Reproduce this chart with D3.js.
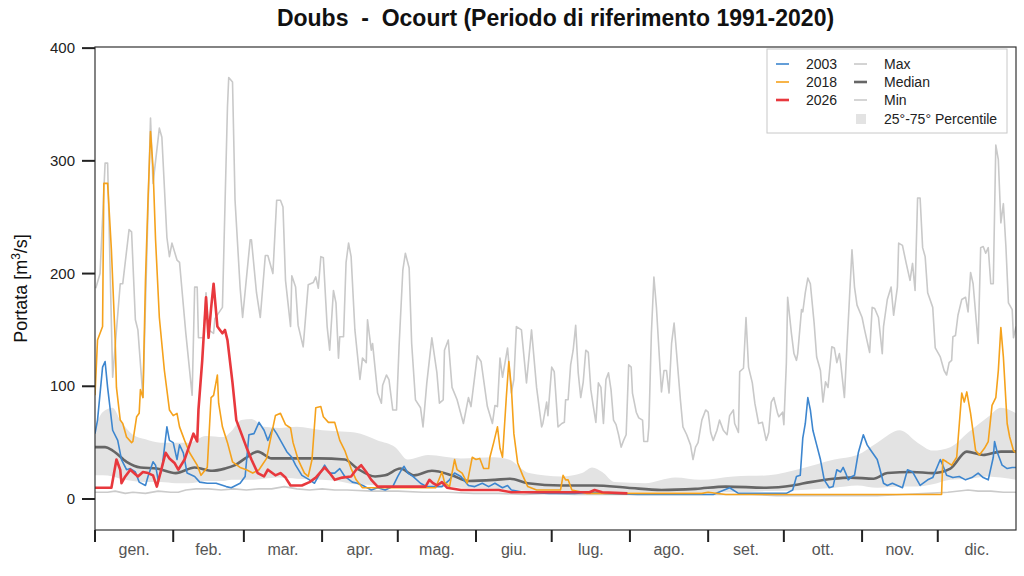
<!DOCTYPE html>
<html>
<head>
<meta charset="utf-8">
<script src="https://cdn.jsdelivr.net/npm/d3@7"></script>
<style>
  body { margin: 0; background: #fff; }
  text { font-family: "Liberation Sans", Arial, sans-serif; }
</style>
</head>
<body>
<div id="chart"></div>
<script>
// month labels and the day-of-year where each month starts
var months = ["gen.", "feb.", "mar.", "apr.", "mag.", "giu.", "lug.", "ago.", "set.", "ott.", "nov.", "dic."];
var monthStarts = [0, 31, 59, 90, 120, 151, 181, 212, 243, 273, 304, 334, 365];
var yTicks = [0, 100, 200, 300, 400];

// [day of year, m3/s]
var maxSeries = [[0.3,187],[2,200],[4,298],[5,298],[7,108],[10,191],[11,191],[13.5,239],[14.5,237],[16,159],[17,150],[19,90],[22,338],[23,280],[25.5,329],[26.5,321],[28.5,232],[29.5,215],[30.5,227],[32.5,212],[33.5,210],[36,147],[38.5,92],[39.5,188],[40.5,188],[41,143],[43,143],[44,183],[45,150],[47,147],[47.5,160],[50.5,170],[52.5,348],[53,374],[54.5,370],[55.5,265],[57.5,188],[58.5,161],[61.5,230],[62,230],[64,183],[65.5,161],[67.5,216],[68.5,216],[70.5,200],[72,265],[73.5,265],[74.5,259],[75.5,194],[77.5,153],[78,198],[79.5,188],[80.5,154],[82.5,135],[84.5,190],[86.5,192],[87.5,197],[88.5,187],[89.5,215],[90.5,214],[92,153],[93,132],[94.5,185],[95.5,174],[96.5,125],[97,144],[98.5,144],[99.5,210],[100.5,227],[101.5,215],[103,150],[105,106],[106,125],[107.5,121],[108,159],[109.5,132],[110,138],[112,94],[113.5,85],[114,101],[115.5,110],[116.5,106],[118,79],[119.5,79],[120.5,135],[122,203],[123,218],[124.5,205],[125.5,138],[127,88],[129,81],[130,64],[131.5,103],[133.5,143],[135.5,112],[136.5,85],[138,88],[138.5,132],[140,141],[141.5,99],[143.5,88],[146,67],[148,90],[149,82],[151.5,127],[153,122],[155.5,82],[157.5,67],[158.5,83],[159.5,82],[160.5,125],[161.5,108],[163.5,134],[165,94],[166,106],[167,153],[169,150],[171,103],[173,150],[175,99],[177,64],[177.5,67],[179,86],[179.5,74],[181,117],[182,113],[183.5,64],[185,67],[186,68],[186.5,88],[187.5,88],[188.5,119],[189.5,132],[190.5,154],[191.5,112],[192.5,90],[193.5,104],[194.5,132],[195.5,130],[196.5,97],[197.5,82],[198.5,68],[199.5,103],[200.5,99],[201.5,67],[202.5,106],[203.5,112],[204.5,97],[205.5,70],[206.5,66],[207.5,57],[208.5,46],[209.5,52],[210.5,57],[211.5,119],[212.5,117],[213,94],[214.5,77],[215.5,72],[217,70],[217.5,51],[219,51],[219.5,64],[220.5,147],[221.5,197],[222.5,170],[223.5,132],[224.5,95],[225.5,114],[226.5,114],[227.5,94],[228.5,138],[229.5,156],[230.5,129],[232,88],[233,64],[234.5,57],[236,48],[237,35],[238,46],[239,50],[240.5,70],[242,79],[243,77],[244,59],[245,52],[246.5,61],[247.5,70],[249,61],[250.5,57],[251.5,74],[253,79],[253.5,67],[255,59],[255.5,113],[257,116],[258,161],[259,117],[260.5,103],[261.5,85],[263,67],[264.5,68],[266,52],[267,59],[268,86],[269,90],[270.5,76],[271,73],[272.5,77],[273,66],[274,121],[274.5,179],[276,147],[277,129],[278,123],[278.5,129],[280,168],[280.5,166],[281.5,183],[282.5,196],[283.5,191],[285,156],[286,126],[287.5,114],[288.5,86],[289.5,104],[290.5,99],[292,135],[293,134],[294,121],[295,129],[295.5,121],[297,90],[298,135],[299,178],[300,221],[301,188],[302,172],[304,161],[305,150],[307,130],[308,170],[309,169],[310.5,161],[312,129],[312.5,153],[314,177],[315.5,188],[316.5,163],[318,188],[318.5,227],[320,225],[321.5,209],[323,194],[324,209],[325,185],[326,267],[327,267],[328,223],[329,215],[330,183],[332,170],[333,134],[335,126],[336.5,114],[337.5,110],[338.5,121],[339.5,123],[340,144],[341,145],[342,163],[343.5,177],[345,179],[346,166],[347,201],[348,191],[350,138],[351,223],[352,224],[353,218],[354,223],[355,191],[356,191],[357,314],[358,301],[359,245],[360,262],[361,224],[362,174],[363.5,168],[364,143],[365,153]];

var minSeries = [[0,6],[5,6],[8,7],[12,5],[15,6],[20,5],[25,7],[30,6],[33,6],[36,8],[40,9],[45,9],[50,8],[55,9],[60,8],[65,9],[70,9],[75,11],[80,9],[85,8],[90,9],[95,8],[100,8],[110,7],[120,7],[130,6],[140,6],[150,5],[160,5],[170,4],[180,5],[190,4],[200,4],[210,4],[220,4],[230,4],[240,4],[250,4],[260,4],[270,3],[280,3],[290,3],[300,3],[310,3],[320,4],[330,5],[338,6],[346,8],[350,7],[355,7],[360,6],[365,6]];

var medianSeries = [[0,46],[4,46],[7,43],[12.5,33],[18,28],[24.5,27],[32,23],[39.5,28],[46.5,25],[51.5,27],[55.5,30],[59.5,36],[64.5,42],[70,36],[79.5,36],[88.5,36],[99,35],[104,27],[111,20],[115,21],[121,27],[126.5,21],[133.5,25],[141.5,21],[148,16],[158.5,17],[164.5,18],[171.5,14],[185,12],[198,12],[211,10],[224.5,8],[238,9],[250,11],[266,10],[276.5,12],[283.5,15],[292.5,18],[299.5,19],[308.5,18],[314,23],[324,24],[332,23],[339,27],[345.5,42],[352,39],[359,42],[365,42]];

// 25th / 75th percentile band on a common day grid
var bandDays = [0,3,7,10,15,20,26,32,37,44,51,54,58,62,67,73,80,90,96,103,112,119,124,132,145,158,164,172,185,193,197,201,206,218,230,240,253,267,280,293,302,310,319,326,332,339,346,354,359,365];
var p75 = [63,77,81,70,57,53,50,50,50,56,55,60,70,71,64,63,64,61,60,59,52,46,35,39,36,37,35,23,20,23,28,24,15,14,19,17,20,21,27,35,39,50,61,50,43,46,59,73,81,76];
var p25 = [21,21,20,18,16,15,15,14,14,16,16,17,17,17,18,19,18,17,16,13,12,11,11,11,10,9,8,7,6,6,6,6,6,6,6,6,6,7,8,10,12,10,11,11,13,17,18,20,19,17];

var series2003 = [[0,58],[1,70],[3,117],[4,122],[5,99],[7,61],[9,52],[10.5,35],[12.5,26],[14,27],[16,24],[17.5,15],[20,12],[21,20],[23,33],[24,30],[25,17],[26.5,26],[28.5,64],[29.5,52],[31,50],[32.5,35],[33.5,48],[35,41],[36.5,23],[39.5,20],[41.5,15],[44.5,14],[48,14],[52,11],[54,10],[57.5,14],[59.5,20],[61,57],[63,58],[65,68],[67,61],[68.5,52],[70.5,63],[72,58],[74,50],[76,42],[78,37],[79.5,30],[82,21],[85,17],[87,14],[91,30],[93,23],[95,23],[97,27],[99,20],[102,15],[104,14],[107,11],[109.5,8],[112,10],[115,8],[118,11],[120,20],[121.5,26],[122.5,29],[124,23],[126,20],[129,14],[131.5,11],[134.5,11],[137.5,11],[140.5,17],[142.5,23],[145,20],[148,12],[150.5,11],[153.5,14],[156,11],[158.5,14],[161.5,10],[163.5,12],[165,8],[170,6],[180,5],[190,5],[197.5,6],[202,5],[215,4],[230,4],[245,4],[251.5,10],[255,5],[270,5],[274,5],[276.5,8],[278,20],[279.5,21],[280.5,54],[281.5,67],[282.5,90],[283.5,79],[284.5,61],[286,48],[287.5,35],[289,17],[291,10],[292.5,11],[294,26],[295.5,24],[296.5,28],[297.5,23],[298.5,17],[300,20],[301,21],[302.5,41],[304.5,57],[306,48],[307.5,43],[310,35],[311,27],[312.5,14],[314,12],[316,14],[318,12],[320,10],[322,26],[324,24],[325,20],[327,12],[330,17],[332,19],[335,35],[336,30],[337.5,21],[340,19],[342.5,20],[345,17],[347.5,19],[350,23],[352,19],[354,17],[356,37],[356.5,51],[357.5,42],[359.5,30],[361.5,27],[363.5,28],[365,28]];

var series2018 = [[0,92],[1,141],[3,153],[3.5,280],[5,280],[6.5,221],[8,141],[8.5,99],[10,70],[11,67],[12.5,55],[14.5,50],[15,51],[16.5,73],[17.5,76],[18,97],[19,90],[20,194],[21,265],[22,326],[23,294],[24,230],[25.5,161],[27.5,114],[29.5,79],[31,74],[32.5,76],[33.5,64],[35.5,52],[37.5,41],[40.5,30],[42,21],[44.5,28],[46,90],[47,92],[48.5,110],[49,85],[50.5,64],[52.5,50],[54.5,33],[57.5,28],[60,26],[62.5,23],[65,26],[68,36],[70,58],[71.5,74],[73.5,76],[75.5,66],[77.5,63],[78.5,50],[80.5,35],[83,23],[84.5,20],[86,35],[87.5,81],[89.5,82],[90.5,73],[92.5,68],[95,68],[97,52],[99,43],[101.5,27],[103.5,17],[106,10],[120,10],[135,10],[137.5,24],[138.5,15],[140.5,11],[142.5,35],[143.5,26],[145.5,23],[147.5,14],[149.5,37],[151,35],[152.5,36],[154,27],[156,27],[156.5,37],[158,50],[159.5,64],[160.5,45],[161.5,37],[163,90],[164,122],[165,99],[166,58],[167.5,32],[169.5,21],[171.5,11],[175,8],[180,8],[184.5,8],[185.5,21],[186.5,17],[187.5,17],[189,8],[195,5],[210,5],[240.5,5],[243,6],[250,4],[290,4],[330,4],[335.5,4],[336,35],[337.5,33],[339.5,30],[341.5,37],[343.5,94],[344.5,86],[345.5,95],[347,76],[349,43],[350.5,39],[352.5,45],[354,51],[355.5,83],[357,90],[358,114],[359,152],[360,126],[361.5,67],[362.5,55],[364,43],[365,41]];

var series2026 = [[0,10],[6.5,10],[8.5,35],[10,26],[10.5,14],[12,20],[14,26],[15,24],[17,20],[19,24],[21,23],[23,21],[24.5,11],[26.5,28],[28,41],[29.5,36],[31.5,32],[33,26],[35.5,35],[37.5,48],[39,58],[40.5,51],[41,79],[42.5,123],[44,179],[45,143],[46,169],[47,191],[48.5,153],[49.5,150],[50.5,147],[51.5,150],[52.5,141],[54.5,103],[56,70],[58,58],[60,46],[62,35],[64.5,23],[67,20],[68.5,26],[71.5,21],[73.5,23],[75.5,19],[77.5,12],[82,12],[85,15],[87.5,19],[91,28],[93,23],[95,17],[98,19],[101.5,20],[103.5,26],[105.5,30],[107.5,24],[109.5,17],[112,11],[120,11],[131,11],[132.5,17],[134,14],[135.5,12],[137.5,15],[139.5,10],[145,8],[160,8],[165,6],[180,6],[196,6],[198,8],[201,6],[211,5]];

var width = 1024, height = 576;
var plotLeft = 95, plotRight = 1016, plotTop = 47, plotBottom = 530;

var svg = d3.select("#chart")
    .append("svg")
    .attr("width", width)
    .attr("height", height);

var x = d3.scaleLinear().domain([0, 365]).range([plotLeft, plotRight]);
var y = d3.scaleLinear().domain([-27.5, 401]).range([plotBottom, plotTop]);

svg.append("clipPath").attr("id", "plot")
    .append("rect")
    .attr("x", plotLeft).attr("y", plotTop)
    .attr("width", plotRight - plotLeft).attr("height", plotBottom - plotTop);

var plot = svg.append("g").attr("clip-path", "url(#plot)");

var line = d3.line()
    .x(function (d) { return x(d[0]); })
    .y(function (d) { return y(d[1]); });
var smooth = d3.line()
    .x(function (d) { return x(d[0]); })
    .y(function (d) { return y(d[1]); })
    .curve(d3.curveMonotoneX);

// percentile band
var band = d3.area()
    .x(function (d, i) { return x(bandDays[i]); })
    .y0(function (d, i) { return y(p25[i]); })
    .y1(function (d, i) { return y(p75[i]); })
    .curve(d3.curveMonotoneX);
plot.append("path")
    .datum(bandDays)
    .attr("d", band)
    .style("fill", "#e3e3e3");

var lines = [
    { data: maxSeries, color: "#c9c9c9", w: 1.6, gen: line },
    { data: minSeries, color: "#cbcbcb", w: 1.6, gen: line },
    { data: medianSeries, color: "#666666", w: 2.6, gen: smooth },
    { data: series2003, color: "#3d86cf", w: 1.6, gen: line },
    { data: series2018, color: "#f5a21c", w: 1.6, gen: line },
    { data: series2026, color: "#e8383d", w: 2.6, gen: line }
];
lines.forEach(function (s) {
    plot.append("path")
        .datum(s.data)
        .attr("d", s.gen)
        .style("fill", "none")
        .style("stroke", s.color)
        .style("stroke-width", s.w)
        .style("stroke-linejoin", "round");
});

// frame
svg.append("rect")
    .attr("x", plotLeft).attr("y", plotTop)
    .attr("width", plotRight - plotLeft).attr("height", plotBottom - plotTop)
    .style("fill", "none")
    .style("stroke", "#333")
    .style("stroke-width", 1.2);

// y axis ticks + labels
var yAxis = svg.append("g");
yTicks.forEach(function (t) {
    yAxis.append("line")
        .attr("x1", plotLeft - 13).attr("x2", plotLeft)
        .attr("y1", y(t)).attr("y2", y(t))
        .style("stroke", "#222").style("stroke-width", 2);
    yAxis.append("text")
        .attr("x", plotLeft - 20).attr("y", y(t) + 5)
        .attr("text-anchor", "end")
        .style("font-size", "15px")
        .style("fill", "#222")
        .text(t);
});

// x axis: ticks at month starts, names centred in each month
var xAxis = svg.append("g");
monthStarts.slice(0, 12).forEach(function (d) {
    xAxis.append("line")
        .attr("x1", x(d)).attr("x2", x(d))
        .attr("y1", plotBottom).attr("y2", plotBottom + 12)
        .style("stroke", "#222").style("stroke-width", 2);
});
months.forEach(function (m, i) {
    xAxis.append("text")
        .attr("x", x((monthStarts[i] + monthStarts[i + 1]) / 2))
        .attr("y", plotBottom + 25)
        .attr("text-anchor", "middle")
        .style("font-size", "16px")
        .style("fill", "#555")
        .text(m);
});

// title
svg.append("text")
    .attr("x", (plotLeft + plotRight) / 2)
    .attr("y", 26)
    .attr("text-anchor", "middle")
    .style("font-size", "23px")
    .style("font-weight", "bold")
    .style("fill", "#111")
    .attr("xml:space", "preserve")
    .text("Doubs  -  Ocourt (Periodo di riferimento 1991-2020)");

// y label with superscript
var ylab = svg.append("text")
    .attr("transform", "translate(27," + ((plotTop + plotBottom) / 2) + ") rotate(-90)")
    .attr("text-anchor", "middle")
    .style("font-size", "18px")
    .style("fill", "#111");
ylab.append("tspan").text("Portata [m");
ylab.append("tspan").attr("dy", -7).style("font-size", "12px").text("3");
ylab.append("tspan").attr("dy", 7).text("/s]");

// legend
var legend = svg.append("g");
legend.append("rect")
    .attr("x", 767).attr("y", 49)
    .attr("width", 240).attr("height", 84)
    .style("fill", "#fff")
    .style("stroke", "#c8c8c8");

var legendLeft = [
    { label: "2003", color: "#3d86cf", w: 1.6 },
    { label: "2018", color: "#f5a21c", w: 1.6 },
    { label: "2026", color: "#e8383d", w: 2.6 }
];
var legendRight = [
    { label: "Max", color: "#c9c9c9", w: 1.6 },
    { label: "Median", color: "#666666", w: 2.6 },
    { label: "Min", color: "#cbcbcb", w: 1.6 },
    { label: "25°-75° Percentile", color: "#e3e3e3", box: true }
];
var rowY = [64, 82, 100, 119];

legendLeft.forEach(function (d, i) {
    legend.append("line")
        .attr("x1", 776).attr("x2", 789)
        .attr("y1", rowY[i]).attr("y2", rowY[i])
        .style("stroke", d.color).style("stroke-width", d.w);
    legend.append("text")
        .attr("x", 806).attr("y", rowY[i] + 5)
        .style("font-size", "14px").style("fill", "#222")
        .text(d.label);
});
legendRight.forEach(function (d, i) {
    if (d.box) {
        legend.append("rect")
            .attr("x", 856).attr("y", rowY[i] - 5)
            .attr("width", 10).attr("height", 10)
            .style("fill", d.color);
    } else {
        legend.append("line")
            .attr("x1", 854).attr("x2", 867)
            .attr("y1", rowY[i]).attr("y2", rowY[i])
            .style("stroke", d.color).style("stroke-width", d.w);
    }
    legend.append("text")
        .attr("x", 884).attr("y", rowY[i] + 5)
        .style("font-size", "14px").style("fill", "#222")
        .text(d.label);
});
</script>
</body>
</html>
